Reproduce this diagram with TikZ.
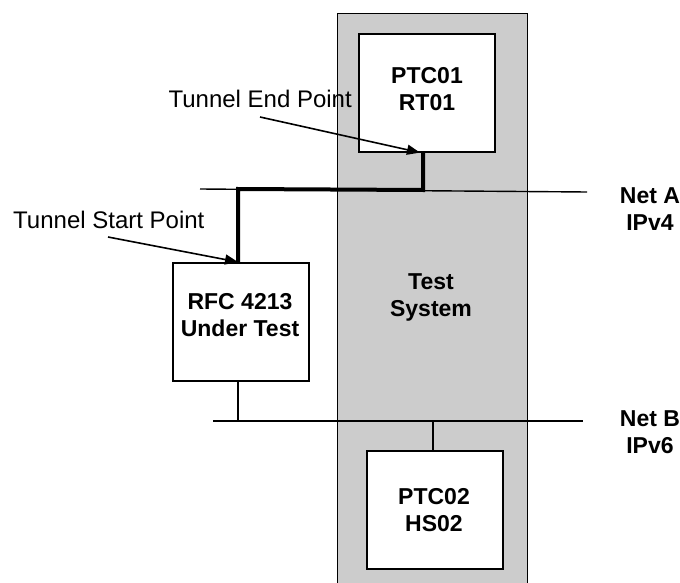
\documentclass[tikz,border=0pt]{standalone}
\usepackage{fontspec}
\setmainfont{Liberation Sans}
\usetikzlibrary{arrows.meta}
\definecolor{sysgray}{RGB}{204,204,204}
\begin{document}
\begin{tikzpicture}[x=1pt,y=-1pt,
  box/.style={draw=black,line width=1.6pt,fill=white,minimum width=136pt,minimum height=118pt,inner sep=0pt,anchor=north west},
  btxt/.style={font=\fontsize{23}{27}\selectfont\bfseries,align=center,inner sep=0pt},
  rtxt/.style={font=\fontsize{24}{28}\selectfont,inner sep=0pt},
  thin/.style={line width=1.4pt},
  pointer/.style={line width=1.6pt,-{Triangle[length=13pt,width=10pt]}},
  tunnel/.style={line width=4pt,line join=miter}]
\useasboundingbox (0,0) rectangle (680,583);
% test system
\node[draw=black,line width=1.4pt,fill=sysgray,minimum width=190pt,minimum height=580pt,anchor=north west,inner sep=0pt] (sys) at (337,13) {};
\node[btxt] (systxt) at (431,297) {Test\\System};
% boxes
\node[box] (ptc01) at (358,33) {};
\node[btxt] (ptc01txt) at (427,89) {PTC01\\RT01};
\node[box] (rfc) at (172,262) {};
\node[btxt] (rfctxt) at (240,315) {RFC 4213\\Under Test};
\node[box] (ptc02) at (366,450) {};
\node[btxt] (ptc02txt) at (434,510) {PTC02\\HS02};
% networks
\coordinate (naL) at (200,189);
\coordinate (naR) at (587,192);
\coordinate (nbL) at (213,421);
\coordinate (nbR) at (583,421);
\draw[thin] (naL) -- (naR);
\draw[thin] (nbL) -- (nbR);
\node[btxt] (nettxtA) at (650,209) {Net A\\IPv4};
\node[btxt] (nettxtB) at (650,432) {Net B\\IPv6};
\coordinate (rfcB) at (238,421);
\coordinate (ptcB) at (433,421);
\draw[thin] (rfc.south -| rfcB) -- (rfcB);
\draw[thin] (ptcB) -- (ptc02.north -| ptcB);
% tunnel
\coordinate (t1) at (238,189);
\coordinate (t2) at (423,190);
\draw[tunnel] (rfc.north -| t1) -- (t1) -- (t2) -- (ptc01.south -| t2);
% labels and pointers
\node[rtxt,anchor=east] (endtxt) at (352,99) {Tunnel End Point};
\node[rtxt,anchor=west] (starttxt) at (13,220) {Tunnel Start Point};
\coordinate (endfrom) at (260,117);
\coordinate (startfrom) at (108,237);
\draw[pointer] (endfrom) -- (ptc01.south -| 420,0);
\draw[pointer] (startfrom) -- (rfc.north -| 238,0);
\end{tikzpicture}
\end{document}
